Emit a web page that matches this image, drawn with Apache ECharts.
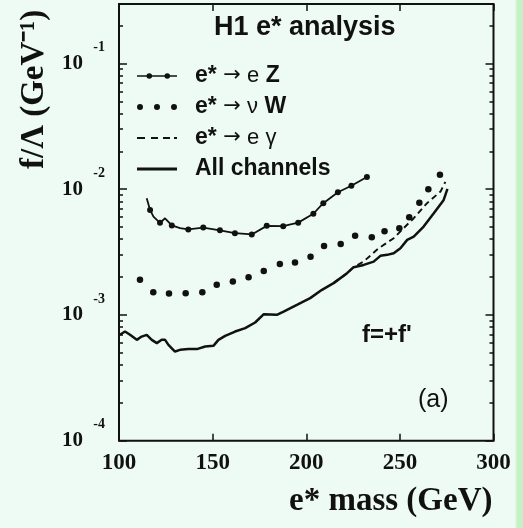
<!DOCTYPE html>
<html><head><meta charset="utf-8">
<script src="https://cdn.jsdelivr.net/npm/echarts@6/dist/echarts.min.js"></script>
<style>
html,body{margin:0;padding:0;}
#c{width:523px;height:528px;background:linear-gradient(to right,#eefaf4 0px,#eefaf4 515px,#c4f2c4 517px,#c4f2c4 523px);}
</style></head><body><div id="c"></div>
<script>
// ---- data ----
const seriesNames = ['e* → e Z', 'e* → ν W', 'e* → e γ', 'All channels'];

const massEZ  = [114.8,116.6,118.4,121.9,124.6,128.2,132.6,137.0,145.0,153.9,161.9,170.9,178.9,187.7,195.7,203.8,209.1,216.9,224.1,232.4];
const limitEZ = [0.00847,0.00684,0.00605,0.00540,0.00587,0.00515,0.00490,0.00479,0.00495,0.00471,0.00447,0.00437,0.00511,0.00508,0.00542,0.00638,0.00774,0.00946,0.01064,0.0125];

const massNuW  = [111.2,118.3,126.7,135.6,144.5,152.2,160.8,169.2,177.3,185.9,194.0,202.3,209.5,218.4,226.1,235.0,241.8,249.7,255.0,260.4,265.2,271.4];
const limitNuW = [0.001905,0.001514,0.001479,0.001489,0.001514,0.001738,0.001845,0.001995,0.002239,0.002547,0.002618,0.002897,0.003540,0.003673,0.004256,0.004150,0.004634,0.004898,0.005984,0.007816,0.0100,0.0130];

const massEGamma  = [214.6,221.8,225.3,230.6,238.7,246.7,252.0,257.4,264.5,271.7,274.3];
const limitEGamma = [0.001791,0.002148,0.002399,0.002655,0.003396,0.004074,0.004898,0.005875,0.007745,0.009572,0.01143];

const massAll  = [100.5,103.2,105.9,109.5,112.1,114.8,117.5,120.2,122.8,124.6,126.4,129.9,132.6,137.1,141.6,146.0,150.4,153.1,156.7,162.0,167.4,172.7,177.2,184.3,187.9,195.0,202.1,208.4,214.6,221.8,225.3,230.7,236.0,239.6,243.2,246.7,250.3,253.9,257.4,262.7,268.1,273.4,275.4];
const limitAll = [6.95e-4,7.38e-4,6.95e-4,6.34e-4,6.73e-4,6.95e-4,6.34e-4,5.97e-4,6.34e-4,6.34e-4,5.78e-4,5.12e-4,5.28e-4,5.35e-4,5.35e-4,5.61e-4,5.68e-4,6.34e-4,6.82e-4,7.38e-4,7.85e-4,8.71e-4,1.012e-3,1.002e-3,1.064e-3,1.202e-3,1.361e-3,1.585e-3,1.791e-3,2.148e-3,2.399e-3,2.500e-3,2.655e-3,2.951e-3,3.006e-3,3.097e-3,3.396e-3,3.954e-3,4.198e-3,5.047e-3,6.442e-3,8.222e-3,1.005e-2];

const xTicks = [100,150,200,250,300];
const yMajorTicks = [1e-4,1e-3,1e-2,1e-1];
const yMinorTicks = [2e-4,3e-4,4e-4,5e-4,6e-4,7e-4,8e-4,9e-4,2e-3,3e-3,4e-3,5e-3,6e-3,7e-3,8e-3,9e-3,2e-2,3e-2,4e-2,5e-2,6e-2,7e-2,8e-2,9e-2,2e-1];
const yExponents = ['-4','-3','-2','-1'];

// ---- chart ----
const pairs = (xs, ys) => xs.map((x, i) => [x, ys[i]]);
const INK = '#111';
const SERIF = 'Liberation Serif';
const SANS = 'Liberation Sans';
const Y_MIN = 1e-4, Y_MAX = 0.297;

const yBase = (extra) => Object.assign({
  type: 'log', logBase: 10, min: Y_MIN, max: Y_MAX, gridIndex: 0,
  axisLine: {show: false}, splitLine: {show: false},
  axisLabel: {show: false}, axisTick: {show: false}
}, extra);

const tickStyle = {color: INK, width: 1.5};

const noDot = new Set([0, 2, 4, 6]);

const legendText = {};
legendText[seriesNames[0]] = '{b|e*} {a|→} {n|e} {b|Z}';
legendText[seriesNames[1]] = '{b|e*} {a|→} {n|ν} {b|W}';
legendText[seriesNames[2]] = '{b|e*} {a|→} {n|e γ}';
legendText[seriesNames[3]] = '{b|All channels}';

const option = {
  animation: false,
  title: [
    {text: 'H1 e* analysis', left: 214, top: 14, padding: 0,
     textStyle: {fontFamily: SANS, fontWeight: 'bold', fontSize: 27, color: INK}},
    {text: "f=+f'", left: 362, top: 323, padding: 0,
     textStyle: {fontFamily: SANS, fontWeight: 'bold', fontSize: 24, color: INK}},
    {text: '(a)', left: 418, top: 388, padding: 0,
     textStyle: {fontFamily: SANS, fontWeight: 'normal', fontSize: 25, color: INK}}
  ],
  legend: {
    orient: 'vertical', left: 137, top: 64, padding: 0,
    itemWidth: 40, itemHeight: 14, itemGap: 7,
    symbolKeepAspect: true,
    selectedMode: false,
    itemStyle: {color: INK, opacity: 1, borderWidth: 0},
    data: [
      {name: seriesNames[0], icon: 'path://M0,2L40,2L40,3.6L0,3.6Z M9.5,2.8A2.8,2.8 0 1 1 15.1,2.8A2.8,2.8 0 1 1 9.5,2.8Z M27.5,2.8A2.8,2.8 0 1 1 33.1,2.8A2.8,2.8 0 1 1 27.5,2.8Z'},
      {name: seriesNames[1], icon: 'path://M0,3A3,3 0 1 1 6,3A3,3 0 1 1 0,3Z M17,3A3,3 0 1 1 23,3A3,3 0 1 1 17,3Z M34,3A3,3 0 1 1 40,3A3,3 0 1 1 34,3Z'},
      {name: seriesNames[2], icon: 'path://M0,0L8,0L8,2L0,2Z M14,0L21,0L21,2L14,2Z M26,0L33,0L33,2L26,2Z M37,0L40,0L40,2L37,2Z'},
      {name: seriesNames[3], icon: 'path://M0,0L40,0L40,2.8L0,2.8Z'}
    ],
    formatter: (name) => legendText[name],
    textStyle: {
      color: INK, fontFamily: SANS, fontSize: 23, fontWeight: 'bold', lineHeight: 24,
      padding: [0, 0, 0, 13],
      rich: {
        b: {fontFamily: SANS, fontWeight: 'bold', fontSize: 23, color: INK, lineHeight: 24},
        n: {fontFamily: SANS, fontWeight: 'normal', fontSize: 22, color: INK, lineHeight: 24},
        a: {fontFamily: 'DejaVu Sans', fontWeight: 'normal', fontSize: 21, color: INK, lineHeight: 24}
      }
    }
  },
  grid: {left: 119, top: 4, right: 29.5, bottom: 87.3, show: true,
         borderColor: INK, borderWidth: 2, backgroundColor: 'transparent'},
  xAxis: [
    {type: 'value', min: xTicks[0], max: xTicks[xTicks.length - 1], interval: 50, position: 'bottom',
     axisLine: {show: false}, splitLine: {show: false},
     axisTick: {inside: true, length: 7, lineStyle: tickStyle, customValues: xTicks},
     axisLabel: {customValues: xTicks, margin: 11, fontFamily: SERIF, fontWeight: 'bold', fontSize: 23, color: INK},
     name: 'e* mass (GeV)', nameLocation: 'end', nameGap: -1,
     nameTextStyle: {fontFamily: SERIF, fontWeight: 'bold', fontSize: 33, color: INK,
                     align: 'right', verticalAlign: 'top', padding: [44, 0, 0, 0]}},
    {type: 'value', min: xTicks[0], max: xTicks[xTicks.length - 1], interval: 50, position: 'top',
     axisLine: {show: false}, splitLine: {show: false}, axisLabel: {show: false},
     axisTick: {inside: true, length: 7, lineStyle: tickStyle, customValues: xTicks}}
  ],
  yAxis: [
    yBase({position: 'left',
      axisTick: {show: true, inside: true, length: 8, lineStyle: tickStyle, customValues: yMajorTicks},
      axisLabel: {show: true, customValues: yMajorTicks, formatter: () => '10', margin: 36,
                  fontFamily: SERIF, fontWeight: 'bold', fontSize: 21, color: INK},
      name: 'f/Λ (GeV⁻¹)', nameLocation: 'middle', nameGap: 68,
      nameTextStyle: {fontFamily: SERIF, fontWeight: 'bold', fontSize: 33, color: INK,
                      padding: [0, 0, 0, 266]}}),
    yBase({position: 'left',
      axisTick: {show: true, inside: true, length: 4, lineStyle: tickStyle, customValues: yMinorTicks}}),
    yBase({position: 'left',
      axisLabel: {show: true, customValues: yMajorTicks,
                  formatter: (v) => yExponents[yMajorTicks.findIndex(t => Math.abs(Math.log10(t) - Math.log10(v)) < 0.01)],
                  margin: 14, verticalAlign: 'bottom', padding: [0, 0, 9, 0],
                  fontFamily: SERIF, fontWeight: 'bold', fontSize: 14, color: INK}}),
    yBase({position: 'right',
      axisTick: {show: true, inside: true, length: 8, lineStyle: tickStyle, customValues: yMajorTicks}}),
    yBase({position: 'right',
      axisTick: {show: true, inside: true, length: 4, lineStyle: tickStyle, customValues: yMinorTicks}})
  ],
  series: [
    {name: seriesNames[0], type: 'line', xAxisIndex: 0, yAxisIndex: 0,
     data: pairs(massEZ, limitEZ), symbol: 'circle',
     symbolSize: (v, p) => noDot.has(p.dataIndex) ? 0 : 6,
     itemStyle: {color: INK, opacity: 1}, lineStyle: {color: INK, width: 1.8}, z: 3},
    {name: seriesNames[1], type: 'scatter', xAxisIndex: 0, yAxisIndex: 0,
     data: pairs(massNuW, limitNuW), symbol: 'circle', symbolSize: 6.5,
     itemStyle: {color: INK, opacity: 1}, z: 3},
    {name: seriesNames[2], type: 'line', xAxisIndex: 0, yAxisIndex: 0,
     data: pairs(massEGamma, limitEGamma), symbol: 'none',
     itemStyle: {color: INK, opacity: 1}, lineStyle: {color: INK, width: 1.9, type: [6, 4]}, z: 2},
    {name: seriesNames[3], type: 'line', xAxisIndex: 0, yAxisIndex: 0,
     data: pairs(massAll, limitAll), symbol: 'none',
     itemStyle: {color: INK, opacity: 1}, lineStyle: {color: INK, width: 2.5}, z: 4}
  ]
};

const chart = echarts.init(document.getElementById('c'), null, {renderer: 'canvas'});
chart.setOption(option);
</script>
</body></html>
